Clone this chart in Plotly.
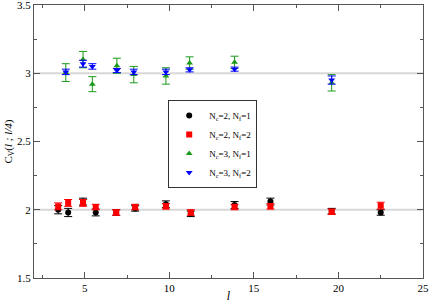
import plotly.graph_objects as go

# x positions (l) for Nc=2 and Nc=3 data sets
l_nc2 = [3.43, 4.02, 4.9, 5.65, 6.86, 7.98, 9.8, 11.27, 13.86, 15.98, 19.6, 22.5]
l_nc3 = [3.88, 4.9, 5.45, 6.9, 7.9, 9.8, 11.2, 13.86, 19.6]

cv_nc2_nf1 = [2.00, 1.98, 2.06, 1.98, 1.98, 2.01, 2.04, 1.97, 2.035, 2.06, 1.99, 1.98]
err_nc2_nf1 = [0.03, 0.03, 0.025, 0.025, 0.02, 0.02, 0.025, 0.02, 0.025, 0.025, 0.02, 0.02]
cv_nc2_nf2 = [2.025, 2.05, 2.05, 2.02, 1.98, 2.02, 2.025, 1.98, 2.02, 2.025, 1.985, 2.03]
err_nc2_nf2 = [0.025, 0.025, 0.025, 0.02, 0.02, 0.02, 0.02, 0.02, 0.02, 0.02, 0.02, 0.025]

cv_nc3_nf1 = [3.005, 3.10, 2.92, 3.055, 2.99, 2.98, 3.075, 3.08, 2.93]
err_nc3_nf1 = [0.065, 0.06, 0.055, 0.055, 0.06, 0.06, 0.045, 0.045, 0.06]
cv_nc3_nf2 = [3.01, 3.07, 3.05, 3.02, 3.01, 3.01, 3.025, 3.03, 2.95]
err_nc3_nf2 = [0.02, 0.025, 0.02, 0.015, 0.02, 0.02, 0.015, 0.015, 0.03]

y_ticks = [1.5, 2, 2.5, 3, 3.5]
y_ticktext = ["1.5", "2", "2.5", "3", "3.5"]

series = [
    ("N<sub>c</sub>=2, N<sub>f</sub>=1", l_nc2, cv_nc2_nf1, err_nc2_nf1, "black", "circle"),
    ("N<sub>c</sub>=2, N<sub>f</sub>=2", l_nc2, cv_nc2_nf2, err_nc2_nf2, "red", "square"),
    ("N<sub>c</sub>=3, N<sub>f</sub>=1", l_nc3, cv_nc3_nf1, err_nc3_nf1, "#1a9a1a", "triangle-up"),
    ("N<sub>c</sub>=3, N<sub>f</sub>=2", l_nc3, cv_nc3_nf2, err_nc3_nf2, "blue", "triangle-down"),
]

fig = go.Figure()

## reference lines at 2 and 3
for yv in [2, 3]:
    fig.add_shape(type="line", xref="paper", x0=0, x1=1, y0=yv, y1=yv,
                  line=dict(color="#d8d8d8", width=2), layer="below")

for name, xs, ys, es, col, sym in series:
    fig.add_trace(go.Scatter(
        x=xs, y=ys, mode="markers", name=name,
        marker=dict(color=col, symbol=sym, size=6),
        error_y=dict(type="data", array=es, color=col, thickness=1, width=4),
    ))

axis_common = dict(showgrid=False, zeroline=False, showline=True, linecolor="#555555",
                   linewidth=1, mirror="ticks", ticks="inside", ticklen=6, tickcolor="#555555",
                   tickfont=dict(size=11, color="black"), automargin=False)

fig.update_xaxes(range=[2, 25], tickvals=[5, 10, 15, 20, 25],
                 minor=dict(dtick=2.5, tick0=0, ticks="inside", ticklen=3, tickcolor="#555555"),
                 title=dict(text="<i>l</i>", font=dict(size=12), standoff=2),
                 **axis_common)
fig.update_yaxes(range=[1.5, 3.5], tickvals=y_ticks[:-1], ticktext=y_ticktext[:-1],
                 minor=dict(dtick=0.25, tick0=0, ticks="inside", ticklen=3, tickcolor="#555555"),
                 title=dict(text="C<sub>V</sub>(<i>l ; l/4</i>)", font=dict(size=11), standoff=2),
                 **axis_common)

## plotly drops the top tick label at the window edge, so put it in by hand
fig.add_annotation(x=0, xref="paper", y=y_ticks[-1], yref="y", text=y_ticktext[-1],
                   showarrow=False, xanchor="right", yanchor="middle", xshift=-1,
                   font=dict(size=11, color="black"))

fig.update_layout(
    width=431, height=303,
    margin=dict(l=34, r=8, t=5, b=25),
    paper_bgcolor="white", plot_bgcolor="white",
    font=dict(family="Liberation Serif, Times New Roman, serif", color="black", size=11),
    legend=dict(x=0.345, y=0.652, xanchor="left", yanchor="top",
                bordercolor="#333333", borderwidth=1, bgcolor="white",
                font=dict(size=9), itemwidth=30, tracegroupgap=0),
    showlegend=True,
)

## page body has a default margin; drop it so the figure sits at the window corner
fig.write_html("out.html", config={"displayModeBar": False},
               post_script="document.body.style.margin='0';")
